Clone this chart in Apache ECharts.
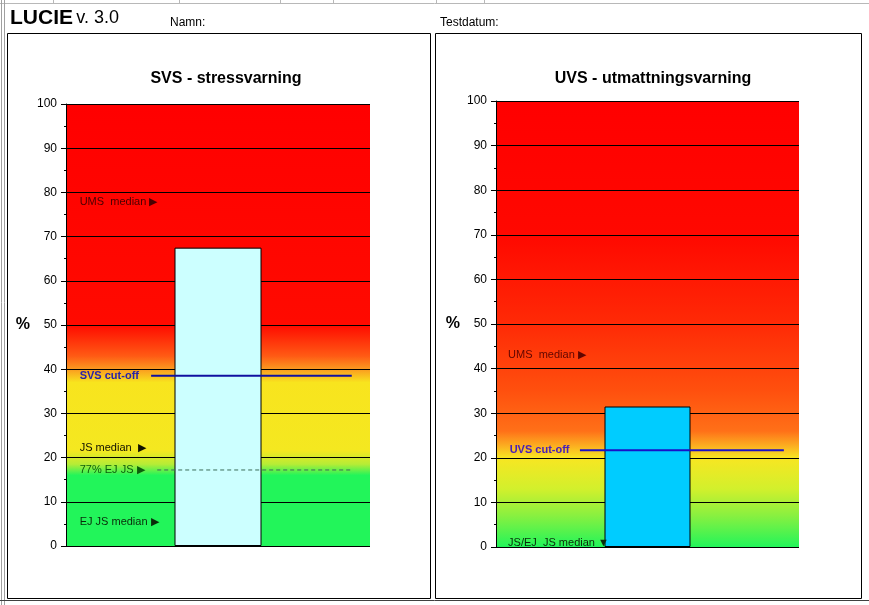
<!DOCTYPE html>
<html>
<head>
<meta charset="utf-8">
<script src="https://cdn.jsdelivr.net/npm/echarts@6/dist/echarts.min.js"></script>
<style>
  html, body { margin: 0; padding: 0; background: #fff; }
  #chart { width: 869px; height: 605px; }
</style>
</head>
<body>
<div id="chart"></div>
<script>
// values
const categories = ['SVS', 'UVS']
const scoreValues = [67.5, 31.5]
const cutoffValues = [38.5, 21.7]
const cutoffNames = ['SVS cut-off', 'UVS cut-off']
const ejJs77Value = 17.2

// reference marks (text + level in %)
const svsMarkerNames = ['UMS  median \u25B6', 'JS median  \u25B6', 'EJ JS median \u25B6']
const svsMarkerValues = [77.8, 22.2, 5.4]
const uvsMarkerNames = ['UMS  median \u25B6', 'JS/EJ  JS median \u25BC']
const uvsMarkerValues = [43.0, 0.9]

const yTicks = [0, 100, 10]  // min, max, interval

const FONT = '"Liberation Sans", Arial, sans-serif'

const svsBg = {
  type: 'linear', x: 0, y: 0, x2: 0, y2: 1,
  colorStops: [
    { offset: 0, color: '#ff0000' },
    { offset: 0.5, color: '#ff0a00' },
    { offset: 0.57, color: '#ff5a14' },
    { offset: 0.6, color: '#fb9a20' },
    { offset: 0.63, color: '#f8e41e' },
    { offset: 0.785, color: '#f4e820' },
    { offset: 0.815, color: '#b6ec36' },
    { offset: 0.84, color: '#22f55a' },
    { offset: 1, color: '#22f55a' },
  ],
}

const uvsBg = {
  type: 'linear', x: 0, y: 0, x2: 0, y2: 1,
  colorStops: [
    { offset: 0, color: '#ff0000' },
    { offset: 0.3, color: '#ff0800' },
    { offset: 0.5, color: '#ff2a06' },
    { offset: 0.65, color: '#ff500e' },
    { offset: 0.74, color: '#ff7018' },
    { offset: 0.77, color: '#fca820' },
    { offset: 0.8, color: '#f8e622' },
    { offset: 0.87, color: '#d2f02c' },
    { offset: 0.93, color: '#88f040' },
    { offset: 1, color: '#22f55a' },
  ],
}

const grids = [
  { left: 66, top: 104, width: 304, height: 442 },
  { left: 496, top: 101, width: 303, height: 446 },
]

const chart = echarts.init(document.getElementById('chart'))

const yAxisBase = (gridIndex) => ({
  type: 'value',
  gridIndex,
  min: yTicks[0],
  max: yTicks[1],
  interval: yTicks[2],
  name: '%',
  nameLocation: 'middle',
  nameRotate: 0,
  nameGap: 36,
  nameTextStyle: { fontFamily: FONT, fontSize: 16, fontWeight: 'bold', color: '#000' },
  axisLine: { show: true, lineStyle: { color: '#000', width: 1 } },
  axisTick: { show: true, length: 5, lineStyle: { color: '#000' } },
  minorTick: { show: true, splitNumber: 2, length: 2, lineStyle: { color: '#000' } },
  axisLabel: { fontFamily: FONT, fontSize: 12, color: '#000', margin: 9 },
  splitLine: { show: true, lineStyle: { color: '#000', width: 1 } },
})

const markerSeries = (names, values, xIndex, yIndex, colors, bold, xPos) => ({
  type: 'scatter',
  xAxisIndex: xIndex,
  yAxisIndex: yIndex,
  symbolSize: 0,
  silent: true,
  z: 6,
  itemStyle: { opacity: 1 },
  data: names.map((n, i) => ({
    value: [xPos, values[i]],
    label: { formatter: n, color: colors[i] },
  })),
  label: {
    show: true,
    position: 'right',
    distance: 0,
    opacity: 1,
    textBorderWidth: 0,
    fontFamily: FONT,
    fontSize: 11,
    fontWeight: bold ? 'bold' : 'normal',
  },
})

chart.setOption({
  animation: false,
  backgroundColor: '#fff',
  title: [
    {
      text: 'SVS - stressvarning',
      left: 221, top: 66, textAlign: 'center',
      textStyle: { fontFamily: FONT, fontSize: 16, fontWeight: 'bold', color: '#000' },
    },
    {
      text: 'UVS - utmattningsvarning',
      left: 648, top: 66, textAlign: 'center',
      textStyle: { fontFamily: FONT, fontSize: 16, fontWeight: 'bold', color: '#000' },
    },
  ],
  grid: [
    Object.assign({ show: true, borderWidth: 0, backgroundColor: svsBg }, grids[0]),
    Object.assign({ show: true, borderWidth: 0, backgroundColor: uvsBg }, grids[1]),
  ],
  xAxis: [
    { type: 'category', gridIndex: 0, data: [categories[0]], show: false },
    { type: 'value', gridIndex: 0, min: 0, max: 1, show: false },
    { type: 'category', gridIndex: 1, data: [categories[1]], show: false },
    { type: 'value', gridIndex: 1, min: 0, max: 1, show: false },
  ],
  yAxis: [yAxisBase(0), yAxisBase(1)],
  series: [
    {
      type: 'bar', xAxisIndex: 0, yAxisIndex: 0, z: 3,
      barWidth: 87,
      data: [scoreValues[0]],
      itemStyle: { color: '#ccffff', borderColor: '#000', borderWidth: 1 },
    },
    {
      type: 'bar', xAxisIndex: 2, yAxisIndex: 1, z: 3,
      barWidth: 86,
      data: [scoreValues[1]],
      itemStyle: { color: '#00ccff', borderColor: '#000', borderWidth: 1 },
    },
    {
      type: 'line', xAxisIndex: 1, yAxisIndex: 0, z: 5, symbol: 'none', silent: true,
      data: [[0.28, cutoffValues[0]], [0.94, cutoffValues[0]]],
      lineStyle: { color: '#1010a0', width: 2 },
    },
    {
      type: 'line', xAxisIndex: 1, yAxisIndex: 0, z: 5, symbol: 'none', silent: true,
      data: [[0.30, ejJs77Value], [0.94, ejJs77Value]],
      lineStyle: { color: '#3a6a58', width: 1, type: [4, 3] },
    },
    {
      type: 'line', xAxisIndex: 3, yAxisIndex: 1, z: 5, symbol: 'none', silent: true,
      data: [[0.277, cutoffValues[1]], [0.95, cutoffValues[1]]],
      lineStyle: { color: '#1a10c8', width: 2 },
    },
    markerSeries(svsMarkerNames, svsMarkerValues, 1, 0, ['#4a0000', '#101000', '#0a2a0a'], false, 0.045),
    markerSeries(['77% EJ JS \u25B6'], [ejJs77Value], 1, 0, ['#0c5c0c'], false, 0.045),
    markerSeries([cutoffNames[0]], [cutoffValues[0]], 1, 0, ['#2a22a8'], true, 0.045),
    markerSeries(uvsMarkerNames, uvsMarkerValues, 3, 1, ['#600600', '#0a2a0a'], false, 0.04),
    markerSeries([cutoffNames[1]], [cutoffValues[1]], 3, 1, ['#4a20b8'], true, 0.045),
  ],
  graphic: [
    // sheet grid lines
    { type: 'line', shape: { x1: 0, y1: 3.5, x2: 869, y2: 3.5 }, style: { stroke: '#b8b8b8', lineWidth: 1 }, silent: true },
    { type: 'line', shape: { x1: 1.5, y1: 0, x2: 1.5, y2: 605 }, style: { stroke: '#a0a0a0', lineWidth: 1 }, silent: true },
    { type: 'line', shape: { x1: 4.5, y1: 0, x2: 4.5, y2: 605 }, style: { stroke: '#a0a0a0', lineWidth: 1 }, silent: true },
    { type: 'line', shape: { x1: 53.5, y1: 0, x2: 53.5, y2: 4 }, style: { stroke: '#b8b8b8', lineWidth: 1 }, silent: true },
    { type: 'line', shape: { x1: 179.5, y1: 0, x2: 179.5, y2: 4 }, style: { stroke: '#b8b8b8', lineWidth: 1 }, silent: true },
    { type: 'line', shape: { x1: 280.5, y1: 0, x2: 280.5, y2: 4 }, style: { stroke: '#b8b8b8', lineWidth: 1 }, silent: true },
    { type: 'line', shape: { x1: 333.5, y1: 0, x2: 333.5, y2: 4 }, style: { stroke: '#b8b8b8', lineWidth: 1 }, silent: true },
    { type: 'line', shape: { x1: 436.5, y1: 0, x2: 436.5, y2: 4 }, style: { stroke: '#b8b8b8', lineWidth: 1 }, silent: true },
    { type: 'line', shape: { x1: 484.5, y1: 0, x2: 484.5, y2: 4 }, style: { stroke: '#b8b8b8', lineWidth: 1 }, silent: true },
    { type: 'line', shape: { x1: 0, y1: 600.5, x2: 869, y2: 600.5 }, style: { stroke: '#404040', lineWidth: 1 }, silent: true },
    // panels
    { type: 'rect', shape: { x: 7.5, y: 33.5, width: 423, height: 565 }, style: { fill: 'none', stroke: '#000', lineWidth: 1 }, z: -1, silent: true },
    { type: 'rect', shape: { x: 435.5, y: 33.5, width: 426, height: 565 }, style: { fill: 'none', stroke: '#000', lineWidth: 1 }, z: -1, silent: true },
    // header
    {
      type: 'text', left: 10, top: 8, silent: true,
      style: {
        text: '{b|LUCIE} {n|v. 3.0}',
        rich: {
          b: { fontFamily: FONT, fontSize: 21, fontWeight: 'bold', fill: '#000' },
          n: { fontFamily: FONT, fontSize: 18, fill: '#000' },
        },
      },
    },
    { type: 'text', left: 170, top: 17, silent: true, style: { text: 'Namn:', fontFamily: FONT, fontSize: 12, fill: '#000' } },
    { type: 'text', left: 440, top: 17, silent: true, style: { text: 'Testdatum:', fontFamily: FONT, fontSize: 12, fill: '#000' } },
  ],
})
</script>
</body>
</html>
